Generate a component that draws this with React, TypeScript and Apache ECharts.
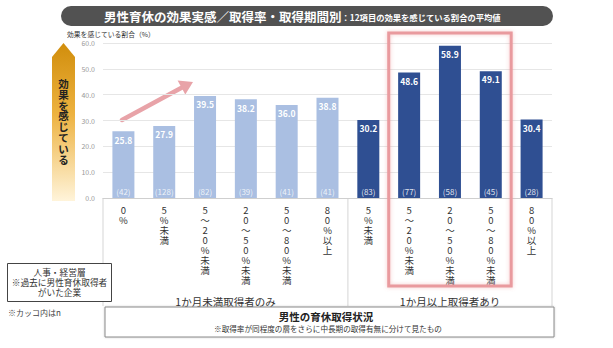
import React, { useEffect, useRef } from "react";
import * as echarts from "echarts";

const categories = [
  "0%", "5%未満", "5～20%未満", "20～50%未満", "50～80%未満", "80%以上",
  "5%未満", "5～20%未満", "20～50%未満", "50～80%未満", "80%以上",
];
const values = [25.8, 27.9, 39.5, 38.2, 36.0, 38.8, 30.2, 48.6, 58.9, 49.1, 30.4];
const counts = [42, 128, 82, 39, 41, 41, 83, 77, 58, 45, 28];
const groupOfBar = [0, 0, 0, 0, 0, 0, 1, 1, 1, 1, 1];
const groupNames = ["1か月未満取得者のみ", "1か月以上取得者あり"];
const yTickValues = [0, 10, 20, 30, 40, 50, 60];

const FONT = "'Noto Sans CJK JP', 'Noto Sans', sans-serif";
const LIGHT = "#AABFE2";
const DARK = "#2F4F92";

export default function App() {
  const ref = useRef<HTMLDivElement>(null);
  useEffect(() => {
    document.body.style.margin = "0";
    const chart = echarts.init(ref.current!, null, { renderer: "svg" });
    const gl = 103, gr = 552, gt = 43, gb = 198;
    const cw = (gr - gl) / categories.length;
    const bx = (i: number) => gl + cw * i; // boundary left of category i

    const barData = values.map((v, i) => ({
      value: v,
      itemStyle: { color: groupOfBar[i] === 0 ? LIGHT : DARK },
    }));
    const nData = values.map((v, i) => ({
      value: v,
      label: { color: groupOfBar[i] === 0 ? "rgba(255,255,255,0.8)" : "rgba(255,255,255,0.85)" },
    }));

    const firstLong = groupOfBar.indexOf(1);
    const graphics: any[] = [
      // title bar
      { type: "rect", shape: { x: 61, y: 6, width: 492, height: 20, r: 10 }, style: { fill: "#525252" } },
      {
        type: "text", x: 104, y: 16.5,
        style: {
          text: "{a|男性育休の効果実感／取得率・取得期間別}{b|：12項目の効果を感じている割合の平均値}",
          verticalAlign: "middle", fill: "#fff", fontFamily: FONT,
          rich: {
            a: { fontSize: 12.5, fontWeight: "bold", fill: "#fff", fontFamily: FONT },
            b: { fontSize: 8.3, fontWeight: "bold", fill: "#fff", fontFamily: FONT, padding: [1, 0, 0, 0] },
          },
        },
      },
      // y-axis name
      { type: "text", x: 67, y: 34, style: { text: "効果を感じている割合（%）", fontSize: 6.8, fill: "#333", fontFamily: FONT, verticalAlign: "middle" } },
      // orange arrow
      {
        type: "polygon",
        shape: { points: [[52, 57], [63.5, 43], [75, 57], [75, 201], [52, 201]] },
        style: {
          fill: new echarts.graphic.LinearGradient(0, 0, 0, 1, [
            { offset: 0, color: "#D18E0C" },
            { offset: 0.45, color: "#EDB240" },
            { offset: 1, color: "#FFF4DA" },
          ]),
        },
      },
      {
        type: "text", x: 63.5, y: 78,
        style: {
          text: "効\n果\nを\n感\nじ\nて\nい\nる", fontSize: 10.5, lineHeight: 10.8, fontWeight: "bold",
          fill: "#222", fontFamily: FONT, align: "center", verticalAlign: "top",
        },
      },
      // pink arrow
      { type: "line", shape: { x1: 122, y1: 120, x2: 182, y2: 87.5 }, style: { stroke: "#E8A3A8", lineWidth: 4.5, lineCap: "round" } },
      { type: "polygon", shape: { points: [[193, 82], [185.3, 94.6], [177.6, 80.4]] }, style: { fill: "#E8A3A8" } },
      // table lines
      { type: "line", shape: { x1: gl, y1: gb, x2: gl, y2: 306 }, style: { stroke: "#D5D5D5", lineWidth: 1 } },
      { type: "line", shape: { x1: bx(firstLong), y1: gb, x2: bx(firstLong), y2: 306 }, style: { stroke: "#D5D5D5", lineWidth: 1 } },
      { type: "line", shape: { x1: gr, y1: gb, x2: gr, y2: 306 }, style: { stroke: "#D5D5D5", lineWidth: 1 } },
      // group labels
      { type: "text", x: (gl + bx(firstLong)) / 2, y: 301, style: { text: groupNames[0], fontSize: 10.5, fill: "#333", fontFamily: FONT, align: "center", verticalAlign: "middle" } },
      { type: "text", x: (bx(firstLong) + gr) / 2, y: 301, style: { text: groupNames[1], fontSize: 10.5, fill: "#333", fontFamily: FONT, align: "center", verticalAlign: "middle" } },
      // red highlight
      {
        type: "rect", shape: { x: bx(7), y: 33, width: bx(10) - bx(7), height: 253 },
        style: { fill: "none", stroke: "#E99A9E", lineWidth: 3, shadowBlur: 4, shadowColor: "rgba(230,120,120,0.4)" },
        z: 100,
      },
      // bottom box
      { type: "rect", shape: { x: 105, y: 307, width: 449, height: 30 }, style: { fill: "#fff", stroke: "#8A8A8A", lineWidth: 1, shadowBlur: 2, shadowColor: "rgba(0,0,0,0.2)" } },
      { type: "text", x: 326, y: 316.5, style: { text: "男性の育休取得状況", fontSize: 10.5, fontWeight: "bold", fill: "#222", fontFamily: FONT, align: "center", verticalAlign: "middle" } },
      { type: "text", x: 328, y: 328.5, style: { text: "※取得率が同程度の層をさらに中長期の取得有無に分けて見たもの", fontSize: 7.6, fill: "#333", fontFamily: FONT, align: "center", verticalAlign: "middle" } },
      // left box
      { type: "rect", shape: { x: 7.5, y: 263.5, width: 104, height: 38 }, style: { fill: "#fff", stroke: "#444", lineWidth: 1 } },
      { type: "text", x: 59.5, y: 282.5, style: { text: "人事・経営層\n※過去に男性育休取得者\nがいた企業", fontSize: 8.7, lineHeight: 10, fill: "#333", fontFamily: FONT, align: "center", verticalAlign: "middle" } },
      { type: "text", x: 8, y: 312, style: { text: "※カッコ内はn", fontSize: 8, fill: "#444", fontFamily: FONT, verticalAlign: "middle" } },
    ];

    chart.setOption({
      animation: false,
      backgroundColor: "#fff",
      textStyle: { fontFamily: FONT },
      grid: { left: gl, right: 613 - gr, top: gt, bottom: 348 - gb, containLabel: false },
      xAxis: {
        type: "category",
        data: categories,
        axisLine: { lineStyle: { color: "#CFCFCF" } },
        axisTick: { show: false },
        axisLabel: {
          interval: 0,
          fontSize: 9.5,
          lineHeight: 10,
          color: "#333",
          margin: 7,
          verticalAlign: "top",
          formatter: (s: string) => Array.from(s).join("\n"),
        },
      },
      yAxis: {
        type: "value",
        min: yTickValues[0],
        max: yTickValues[yTickValues.length - 1],
        interval: 10,
        axisLine: { show: false },
        axisTick: { show: false },
        splitLine: { lineStyle: { color: "#E6E6E6" } },
        axisLabel: { fontSize: 7, color: "#999", margin: 8, formatter: (v: number) => v.toFixed(1) },
      },
      series: [
        {
          type: "bar",
          data: barData,
          barWidth: 22,
          label: {
            show: true, position: "insideTop", distance: 4, color: "#fff",
            fontSize: 8.5, fontWeight: "bold", formatter: (p: any) => p.value.toFixed(1),
          },
        },
        {
          type: "bar",
          data: nData,
          barWidth: 22,
          barGap: "-100%",
          itemStyle: { color: "transparent" },
          label: {
            show: true, position: "insideBottom", distance: 3, fontSize: 8,
            formatter: (p: any) => `(${counts[p.dataIndex]})`,
          },
        },
      ],
      graphic: graphics,
    });
    return () => chart.dispose();
  }, []);
  return <div ref={ref} style={{ width: 613, height: 348 }} />;
}
